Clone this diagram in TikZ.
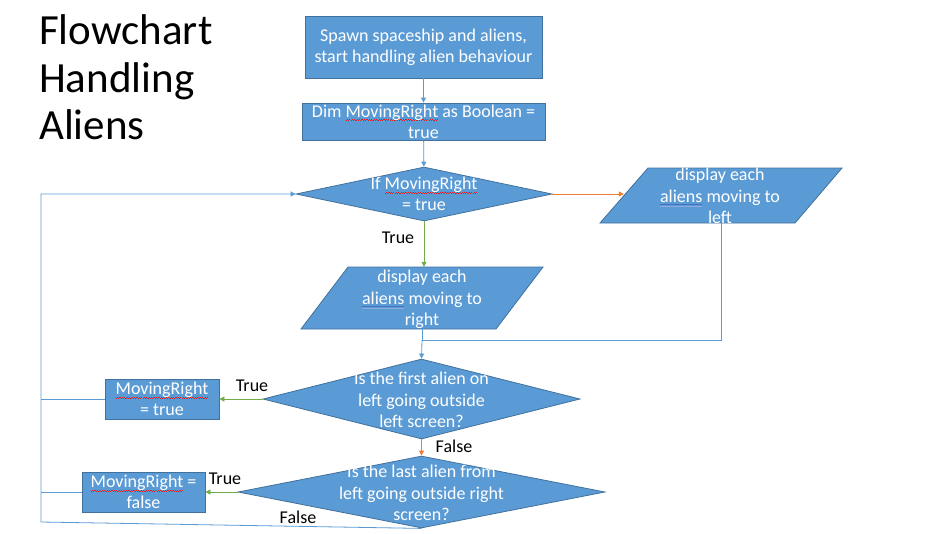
\documentclass[tikz,border=0pt]{standalone}
\usepackage{fontspec}
\setmainfont{Carlito}
\usetikzlibrary{shapes.geometric,arrows.meta}
\definecolor{boxfill}{HTML}{5B9BD5}
\definecolor{boxline}{HTML}{41719C}
\definecolor{lineblue}{HTML}{5B9BD5}
\definecolor{lgreen}{HTML}{70AD47}
\definecolor{lorange}{HTML}{ED7D31}
\definecolor{linkblue}{HTML}{4472C4}
\definecolor{spellred}{HTML}{E02020}
\newsavebox\ulbox
\newcommand\redwave[1]{\sbox\ulbox{#1}\rlap{\textcolor{spellred}{\hbox to\wd\ulbox{\xleaders\hbox{\rule[-4.2pt]{1.2pt}{0.8pt}\rule[-3.2pt]{1.2pt}{0.8pt}}\hfill}}}\usebox\ulbox}
\newcommand\alu[1]{\sbox\ulbox{#1}\rlap{\textcolor{linkblue}{\rule[-2.8pt]{\wd\ulbox}{0.7pt}}}\rlap{\textcolor{linkblue!60}{\rule[-4.6pt]{\wd\ulbox}{0.7pt}}}\usebox\ulbox}
\newcommand\fs{\fontsize{18}{21.3}\selectfont}
\begin{document}
\begin{tikzpicture}[x=1pt,y=-1pt,
  proc/.style={draw=boxline, fill=boxfill, line width=0.8pt, text=white, align=center, font=\fs, inner sep=0pt},
  dec/.style={diamond, draw=boxline, fill=boxfill, line width=0.8pt, inner sep=0pt},
  iofill/.style={draw=boxline, fill=boxfill, line width=0.8pt, line join=miter},
  wt/.style={text=white, align=center, font=\fs, inner sep=0pt},
  conn/.style={draw=lineblue, line width=0.8pt},
  arr/.style={-{Triangle[length=5pt,width=5pt]}},
  lbl/.style={font=\fs, text=black, inner sep=0pt}]
\useasboundingbox (0,0) rectangle (949,533);
\fill[white] (0,0) rectangle (949,533);

\node[anchor=north west, align=left, font=\fontsize{43}{47.5}\selectfont, inner sep=0pt] (title) at (39,14.5) {Flowchart\\Handling\\Aliens};

\node[proc, minimum width=237, minimum height=62] (spawn) at (423.5,47) {Spawn spaceship and aliens,\\start handling alien behaviour};
\node[proc, minimum width=243, minimum height=37] (dim) at (423.5,121.5) {Dim \redwave{MovingRight} as Boolean =\\true};

\node[dec, minimum width=256, minimum height=54] (d1) at (424,194) {};
\node[wt] (d1t) at (424,194) {If \redwave{MovingRight}\\= true};

% parallelogram (right)
\draw[iofill] (301,329) -- (348,267) -- (543,267) -- (496,329) -- cycle;
\node[inner sep=0pt, minimum width=195, minimum height=62] (pr) at (422,298) {};
\node[wt] (prt) at (422,299.5) {display each\\\alu{aliens} moving to\\right};

% parallelogram (left)
\draw[iofill] (600,223) -- (648,168) -- (842,168) -- (795,223) -- cycle;
\node[inner sep=0pt, minimum width=194, minimum height=55] (pl) at (721,195.5) {};
\node[wt] (plt) at (720,196) {display each\\\alu{aliens} moving to\\left};

\node[dec, minimum width=317, minimum height=80] (d2) at (421.5,399) {};
\node[wt] (d2t) at (421.5,400) {Is the first alien on\\left going outside\\left screen?};

\node[dec, minimum width=367, minimum height=72] (d3) at (421.5,492) {};
\node[wt] (d3t) at (421.5,493) {Is the last alien from\\left going outside right\\screen?};

\node[proc, minimum width=114, minimum height=40] (b3) at (162,399) {\redwave{MovingRight}\\= true};
\node[proc, minimum width=123, minimum height=40] (b4) at (143.5,492) {\redwave{MovingRight} =\\false};

\coordinate (m) at (422,340);
\coordinate (L3) at (41,399);
\coordinate (L4) at (41,492);
\coordinate (bl) at (41,522);
\coordinate (tl) at (41,194);

\draw[conn,arr] (spawn) -- (dim);
\draw[conn,arr] (dim) -- (d1);
\draw[conn,draw=lgreen,arr] (d1.south) -- (d1.south |- pr.north);
\draw[conn,draw=lorange,arr] (d1.east) -- (d1.east -| pl.west);
\draw[conn] (pl.south) |- (m);
\draw[conn] (pr.south) -- (m);
\draw[conn,arr] (m) -- (d2.north);
\draw[conn,draw=lgreen,arr] (d2.west) -- (b3.east);
\draw[conn] (b3.west) -- (L3);
\draw[conn,draw=lorange,arr] (d2.south) -- (d3.north);
\draw[conn,draw=lgreen,arr] (d3.west) -- (b4.east);
\draw[conn] (b4.west) -- (L4);
\draw[conn,arr] (d3.south) -- (bl) -- (tl) -- (d1.west);

\node[lbl] (t1) at (398,238) {True};
\node[lbl] (t2) at (252,386) {True};
\node[lbl] (t3) at (225,479) {True};
\node[lbl] (f1) at (454,446) {False};
\node[lbl] (f2) at (298,517) {False};
\end{tikzpicture}
\end{document}
